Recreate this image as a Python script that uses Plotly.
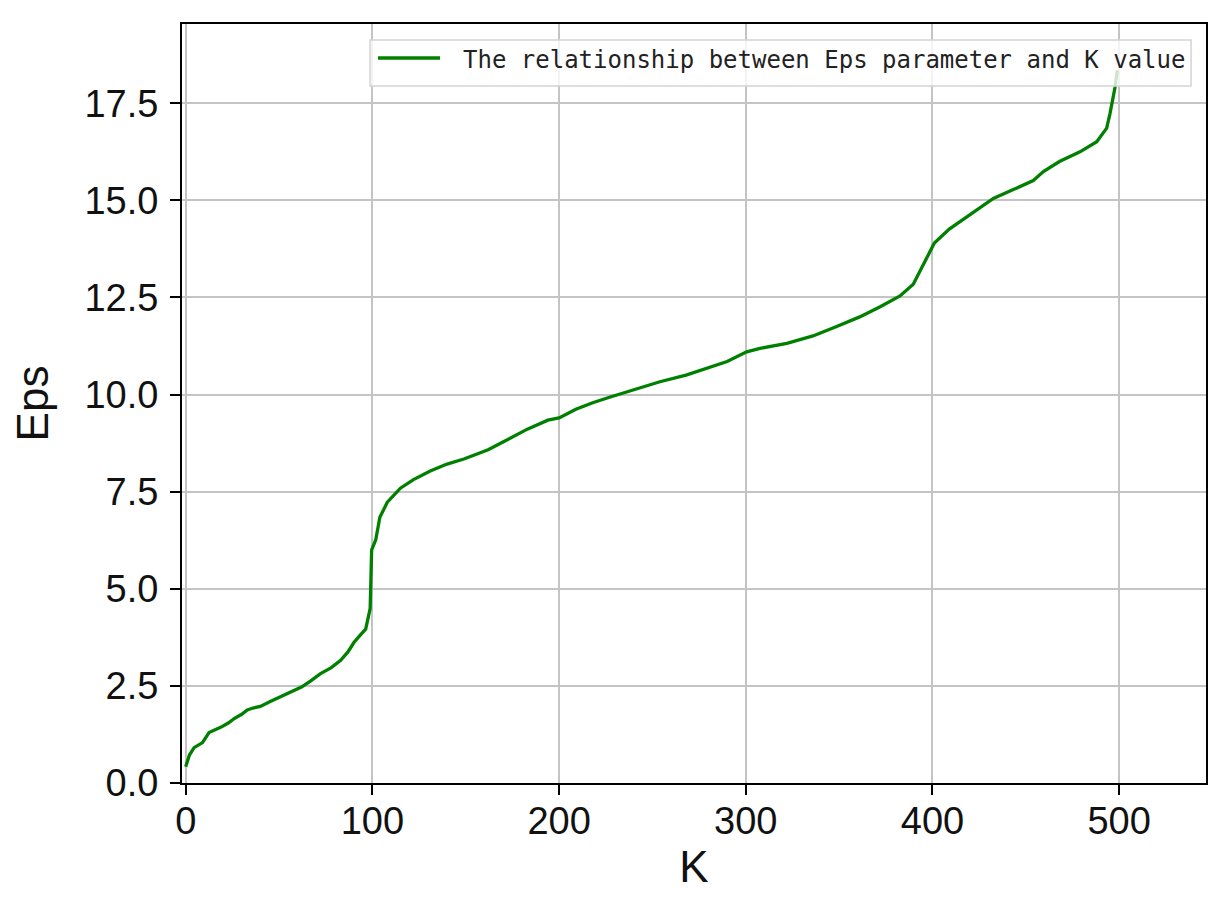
import plotly.graph_objects as go

# K values (x) and Eps values (y)
k_values = [0, 2, 4.5, 7, 9, 12.5, 16, 19, 23, 26, 30, 33, 36, 40, 45, 51, 56, 62, 67, 72,
            78, 83, 87, 90, 93, 96.4, 98.8, 99, 99.6, 101.8, 104, 108, 115, 122, 131, 140,
            149, 155, 162, 172, 183, 194, 200, 209, 218, 227, 236, 245, 254, 268, 281, 290,
            300.5, 307.6, 322, 336, 349, 361, 372, 382.6, 389.7, 395, 401, 409, 420, 432.6,
            443, 454, 459.4, 468, 479, 488, 493.3, 495.1, 497.7, 499]
eps_values = [0.42, 0.72, 0.91, 0.98, 1.04, 1.30, 1.37, 1.44, 1.55, 1.66, 1.77, 1.88, 1.93,
              1.97, 2.09, 2.23, 2.34, 2.47, 2.63, 2.81, 2.97, 3.16, 3.38, 3.61, 3.78, 3.96,
              4.49, 4.98, 6.0, 6.26, 6.84, 7.23, 7.59, 7.81, 8.03, 8.21, 8.34, 8.45, 8.58,
              8.83, 9.11, 9.34, 9.40, 9.62, 9.79, 9.93, 10.07, 10.19, 10.33, 10.50, 10.72,
              10.85, 11.10, 11.19, 11.32, 11.51, 11.76, 12.00, 12.26, 12.54, 12.84, 13.34,
              13.90, 14.26, 14.62, 15.05, 15.27, 15.51, 15.74, 16.0, 16.25, 16.51, 16.86,
              17.24, 17.89, 18.35]

series_name = "The relationship between Eps parameter and K value"
x_tick_values = [0, 100, 200, 300, 400, 500]
y_tick_values = [0.0, 2.5, 5.0, 7.5, 10.0, 12.5, 15.0, 17.5]

LINE_COLOR = "#008000"

fig = go.Figure()
fig.add_trace(go.Scatter(
    x=k_values, y=eps_values, mode="lines", name=series_name,
    line=dict(color=LINE_COLOR, width=3.3), showlegend=False,
))

axis_common = dict(
    showline=True, linecolor="black", linewidth=2, mirror=True,
    ticks="outside", ticklen=10, tickwidth=2, tickcolor="black",
    showgrid=True, gridcolor="#c4c4c4", gridwidth=1.5, zeroline=False,
    automargin=False,
    tickfont=dict(family="Liberation Sans, Arial, sans-serif", size=38, color="#111111"),
)

# Legend drawn as a box, a line sample and a text label (matplotlib-style legend)
fig.add_shape(type="rect", xref="paper", yref="paper",
              x0=0.1836, x1=0.9854, y0=0.9183, y1=0.9789,
              fillcolor="rgba(255,255,255,0.8)", line=dict(color="#d4d4d4", width=1.5),
              layer="above")
fig.add_shape(type="line", xref="paper", yref="paper",
              x0=0.1914, x1=0.2520, y0=0.9552, y1=0.9552,
              line=dict(color=LINE_COLOR, width=3.3), layer="above")
fig.add_annotation(xref="paper", yref="paper", x=0.2720, y=0.9530,
                   xanchor="left", yanchor="middle", showarrow=False,
                   text=series_name,
                   font=dict(family="DejaVu Sans Mono, Liberation Mono, monospace",
                             size=24, color="#222222"))

fig.update_layout(
    width=1221, height=899,
    margin=dict(l=174, r=23, t=16, b=124),
    paper_bgcolor="white", plot_bgcolor="white",
    showlegend=False,
    xaxis=dict(
        range=[-1.98, 546.5], tickvals=x_tick_values,
        ticklabelstandoff=-7,
        title=dict(text="K", font=dict(family="Liberation Sans, Arial, sans-serif", size=44, color="#111111"), standoff=11),
        **axis_common,
    ),
    yaxis=dict(
        range=[0, 19.54], tickvals=y_tick_values, tickformat=".1f",
        ticklabelstandoff=4,
        title=dict(text="Eps", font=dict(family="Liberation Sans, Arial, sans-serif", size=44, color="#111111"), standoff=24),
        **axis_common,
    ),
)

fig.write_html("out.html")
